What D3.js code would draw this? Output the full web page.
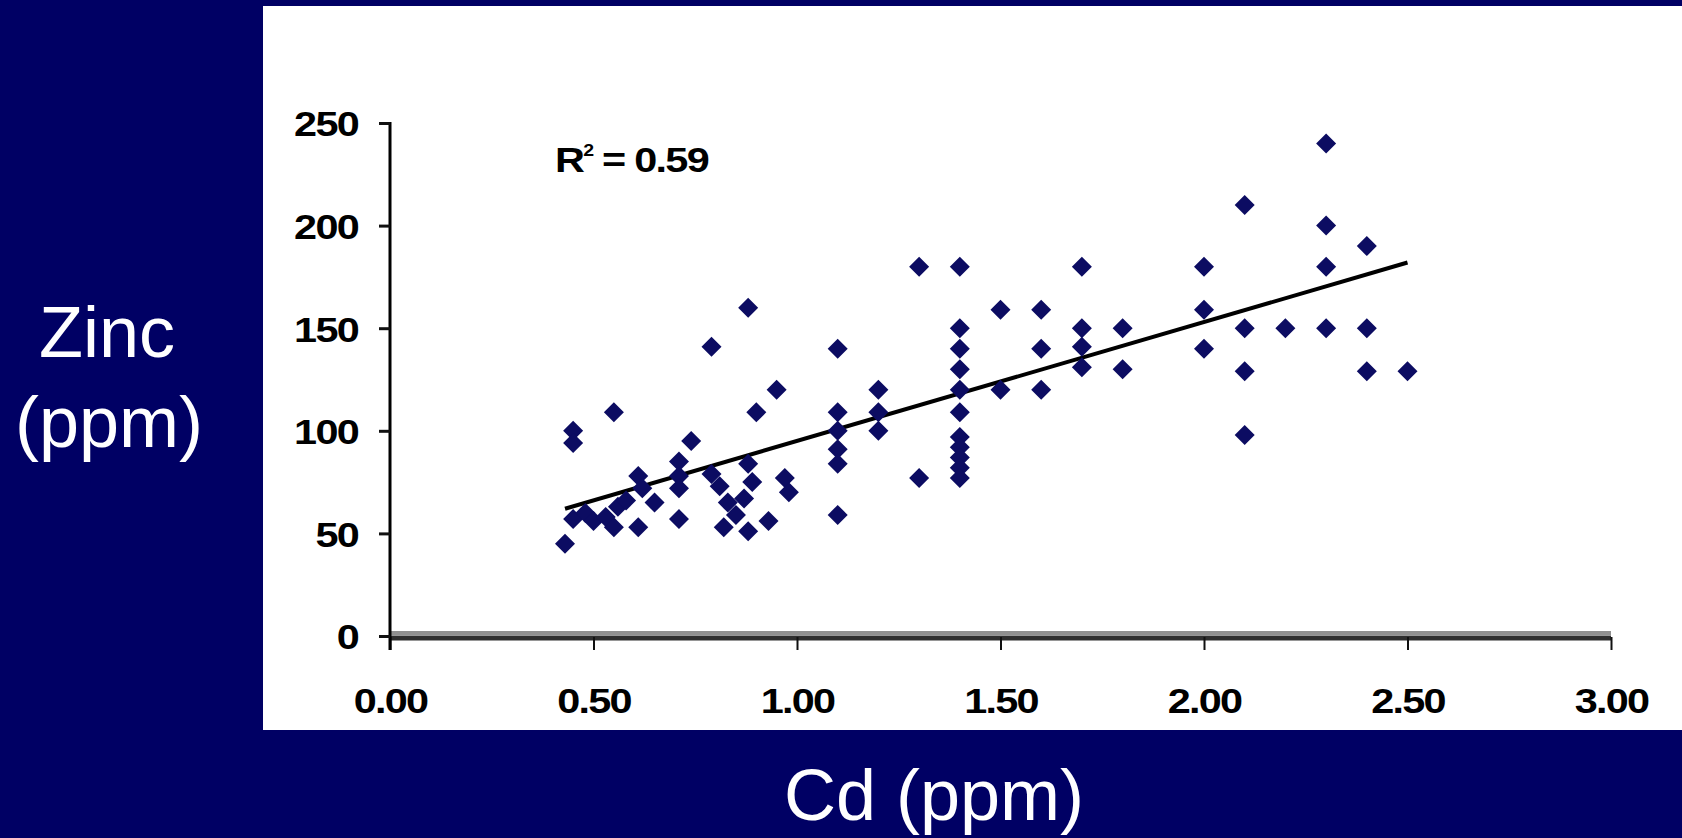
<!DOCTYPE html>
<html>
<head>
<meta charset="utf-8">
<script src="https://cdn.jsdelivr.net/npm/d3@7"></script>
<style>
  html, body { margin: 0; padding: 0; background: #000064; }
  svg { display: block; }
</style>
</head>
<body>
<svg id="chart" width="1682" height="838"></svg>
<script>
// ---- data ----
const cdValues = [
  0.43, 0.45, 0.45, 0.45, 0.48, 0.50, 0.53, 0.55, 0.55, 0.56, 0.58, 0.61, 0.61, 0.62, 0.65,
  0.71, 0.71, 0.71, 0.71, 0.74, 0.79, 0.79, 0.81, 0.82, 0.83, 0.85, 0.87, 0.88, 0.88, 0.88, 0.89,
  0.90, 0.93, 0.95, 0.97, 0.98,
  1.10, 1.10, 1.10, 1.10, 1.10, 1.10,
  1.20, 1.20, 1.20,
  1.30, 1.30,
  1.40, 1.40, 1.40, 1.40, 1.40, 1.40, 1.40, 1.40, 1.40, 1.40, 1.40,
  1.50, 1.50,
  1.60, 1.60, 1.60,
  1.70, 1.70, 1.70, 1.70,
  1.80, 1.80,
  2.00, 2.00, 2.00,
  2.10, 2.10, 2.10, 2.10,
  2.20,
  2.30, 2.30, 2.30, 2.30,
  2.40, 2.40, 2.40,
  2.50
];
const zincValues = [
  45, 100, 94, 57, 60, 56, 58, 53, 109, 63, 66, 53, 78, 72, 65,
  57, 85, 78, 72, 95, 141, 79, 73, 53, 65, 59, 67, 160, 84, 51, 75,
  109, 56, 120, 77, 70,
  140, 109, 100, 91, 84, 59,
  120, 109, 100,
  180, 77,
  180, 150, 140, 130, 120, 109, 97, 92, 87, 82, 77,
  159, 120,
  159, 140, 120,
  180, 150, 141, 131,
  150, 130,
  180, 159, 140,
  210, 150, 129, 98,
  150,
  240, 200, 180, 150,
  190, 150, 129,
  129
];
// trend line end points
const trendCd = [0.43, 2.50];
const trendZinc = [62, 182];
const xTicks = [0, 0.5, 1.0, 1.5, 2.0, 2.5, 3.0];
const yTicks = [0, 50, 100, 150, 200, 250];
const rSquaredLabel = "0.59";
const xTitle = "Cd (ppm)";
const yTitleLines = ["Zinc", "(ppm)"];

// ---- drawing ----
const svg = d3.select("#chart");
const W = 1682, H = 838;
const TEXT_STRETCH = 1.15;
const labelFont = "'Liberation Sans', Arial, sans-serif";

svg.append("rect").attr("x", 0).attr("y", 0).attr("width", W).attr("height", H).attr("fill", "#000064");
svg.append("rect").attr("x", 263).attr("y", 6).attr("width", W - 263).attr("height", 724).attr("fill", "#ffffff");

const x = d3.scaleLinear().domain([0, 3]).range([390, 1611]);
const y = d3.scaleLinear().domain([0, 250]).range([636, 123]);

// x axis base (grey + dark double line)
svg.append("line").attr("x1", x(0)).attr("x2", x(3)).attr("y1", y(0) - 3).attr("y2", y(0) - 3)
  .attr("stroke", "#8f8f8f").attr("stroke-width", 4);
svg.append("line").attr("x1", x(0)).attr("x2", x(3)).attr("y1", y(0) + 2).attr("y2", y(0) + 2)
  .attr("stroke", "#2e2e2e").attr("stroke-width", 5);

const xAxis = d3.axisBottom(x).tickValues(xTicks).tickFormat(d3.format(".2f"))
  .tickSize(13).tickSizeOuter(0).tickPadding(37);
const gx = svg.append("g").attr("transform", `translate(0,${y(0) + 1})`).call(xAxis);
gx.select(".domain").remove();
gx.selectAll(".tick line").attr("stroke", "#111").attr("stroke-width", 2);
gx.selectAll(".tick text")
  .attr("fill", "#000").attr("font-family", labelFont).attr("font-weight", "bold")
  .attr("font-size", 36).attr("letter-spacing", -1.5)
  .attr("transform", `scale(${TEXT_STRETCH},1)`);

// y axis
svg.append("line").attr("x1", x(0)).attr("x2", x(0)).attr("y1", y(250) - 1).attr("y2", y(0) + 14)
  .attr("stroke", "#000").attr("stroke-width", 3);
const yAxis = d3.axisLeft(y).tickValues(yTicks).tickFormat(d3.format("d"))
  .tickSize(11).tickSizeOuter(0);
const gy = svg.append("g").attr("transform", `translate(${x(0)},0)`).call(yAxis);
gy.select(".domain").remove();
gy.selectAll(".tick line").attr("stroke", "#111").attr("stroke-width", 3);
gy.selectAll(".tick text")
  .attr("fill", "#000").attr("font-family", labelFont).attr("font-weight", "bold")
  .attr("font-size", 36).attr("letter-spacing", -1.5)
  .attr("x", -32 / TEXT_STRETCH).attr("dy", "0.36em")
  .attr("transform", `scale(${TEXT_STRETCH},1)`);

// trend line
svg.append("line")
  .attr("x1", x(trendCd[0])).attr("y1", y(trendZinc[0]))
  .attr("x2", x(trendCd[1])).attr("y2", y(trendZinc[1]))
  .attr("stroke", "#000").attr("stroke-width", 4);

// points
const pts = cdValues.map((c, i) => ({ c, z: zincValues[i] }));
const diamond = d3.symbol().type(d3.symbolSquare).size(200);
svg.append("g").selectAll("path").data(pts).join("path")
  .attr("d", diamond)
  .attr("transform", d => `translate(${x(d.c)},${y(d.z)}) rotate(45)`)
  .attr("fill", "#0c0c62");

// R^2 label
const rl = svg.append("text")
  .attr("transform", `translate(555,172) scale(${TEXT_STRETCH},1)`)
  .attr("font-family", labelFont).attr("font-weight", "bold").attr("font-size", 36)
  .attr("letter-spacing", -1.5).attr("fill", "#000");
rl.append("tspan").text("R");
rl.append("tspan").attr("font-size", 17).attr("dy", -16).text("2");
rl.append("tspan").attr("dy", 16).text(" = " + rSquaredLabel);

// axis titles
svg.append("text").attr("x", 934).attr("y", 820).attr("text-anchor", "middle")
  .attr("font-family", labelFont).attr("font-size", 72).attr("fill", "#fff").text(xTitle);
svg.append("text").attr("x", 107).attr("y", 357).attr("text-anchor", "middle")
  .attr("font-family", labelFont).attr("font-size", 72).attr("fill", "#fff").text(yTitleLines[0]);
svg.append("text").attr("x", 109).attr("y", 447).attr("text-anchor", "middle")
  .attr("font-family", labelFont).attr("font-size", 72).attr("fill", "#fff").text(yTitleLines[1]);
</script>
</body>
</html>
